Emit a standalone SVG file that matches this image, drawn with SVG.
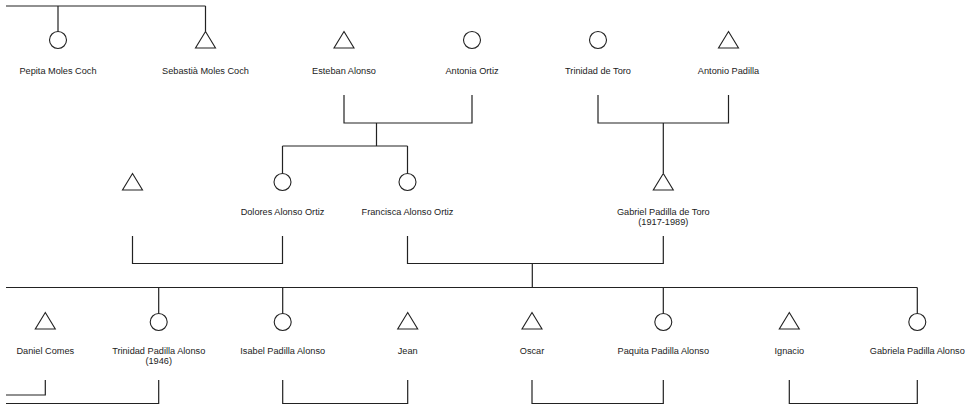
<svg xmlns="http://www.w3.org/2000/svg" width="968" height="405" viewBox="0 0 968 405">
<style>
.s{fill:#fff;stroke:#222;stroke-width:1.1}
.c{fill:none;stroke:#222;stroke-width:1.2}
text{font-family:"Liberation Sans",Arial,sans-serif;font-size:9.2px;fill:#222;text-anchor:middle}
</style>
<defs>
<circle id="f" r="8.5" class="s"/>
<path id="m" d="M0,-8.5 L10,8 L-10,8 Z" class="s"/>
</defs>
<rect width="968" height="405" fill="#fff"/>
<g id="connectors">
<path class="c" d="M6,6 H205.5 M58,6 V31.5 M205.5,6 V31.5"/>
<path class="c" d="M344,95 V123 H472 V95 M376.5,123 V146 M282.5,146 H407.5 M282.5,146 V173.5 M407.5,146 V173.5"/>
<path class="c" d="M598,95 V123 H728.5 V95 M663.3,123 V173"/>
<path class="c" d="M132.5,236 V263.5 H282.5 V236"/>
<path class="c" d="M407.5,236 V263.5 H663.3 V236 M532.3,263.5 V287.5"/>
<path class="c" d="M6,287.5 H917.3 M158.7,287.5 V313.5 M282.7,287.5 V313.5 M663.3,287.5 V313.5 M917.3,287.5 V313.5"/>
<path class="c" d="M6,395 H45.3 V380"/>
<path class="c" d="M6,403.5 H158.7 V380"/>
<path class="c" d="M282.7,380 V403.5 H407.7 V380"/>
<path class="c" d="M532,380 V403.5 H663.3 V380"/>
<path class="c" d="M789.3,380 V403.5 H917.3 V380"/>
</g>
<g id="pepita"><use href="#f" x="58" y="40"/><text x="58" y="74">Pepita Moles Coch</text></g>
<g id="sebastia"><use href="#m" x="205.5" y="40"/><text x="205.5" y="74">Sebastià Moles Coch</text></g>
<g id="esteban"><use href="#m" x="344" y="40"/><text x="344" y="74">Esteban Alonso</text></g>
<g id="antonia"><use href="#f" x="472" y="40"/><text x="472" y="74">Antonia Ortiz</text></g>
<g id="trinidad-toro"><use href="#f" x="598" y="40"/><text x="598" y="74">Trinidad de Toro</text></g>
<g id="antonio"><use href="#m" x="728.5" y="40"/><text x="728.5" y="74">Antonio Padilla</text></g>
<g id="unknown"><use href="#m" x="132.5" y="182"/></g>
<g id="dolores"><use href="#f" x="282.5" y="182"/><text x="282.5" y="215">Dolores Alonso Ortiz</text></g>
<g id="francisca"><use href="#f" x="407.5" y="182"/><text x="407.5" y="215">Francisca Alonso Ortiz</text></g>
<g id="gabriel"><use href="#m" x="663.3" y="182"/><text x="663.3" y="215">Gabriel Padilla de Toro</text><text x="663.3" y="224.5">(1917-1989)</text></g>
<g id="daniel"><use href="#m" x="45.3" y="321"/><text x="45.3" y="354">Daniel Comes</text></g>
<g id="trinidad-padilla"><use href="#f" x="158.7" y="322"/><text x="158.7" y="354">Trinidad Padilla Alonso</text><text x="158.7" y="363.5">(1946)</text></g>
<g id="isabel"><use href="#f" x="282.7" y="322"/><text x="282.7" y="354">Isabel Padilla Alonso</text></g>
<g id="jean"><use href="#m" x="407.7" y="321"/><text x="407.7" y="354">Jean</text></g>
<g id="oscar"><use href="#m" x="532" y="321"/><text x="532" y="354">Oscar</text></g>
<g id="paquita"><use href="#f" x="663.3" y="322"/><text x="663.3" y="354">Paquita Padilla Alonso</text></g>
<g id="ignacio"><use href="#m" x="789.3" y="321"/><text x="789.3" y="354">Ignacio</text></g>
<g id="gabriela"><use href="#f" x="917.3" y="322"/><text x="917.3" y="354">Gabriela Padilla Alonso</text></g>
</svg>
